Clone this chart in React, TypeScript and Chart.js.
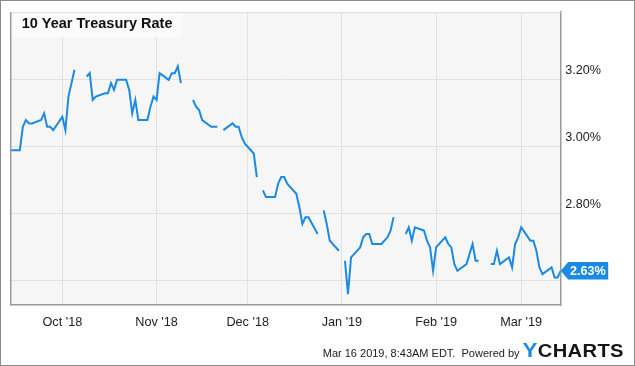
import React, { useEffect, useRef } from 'react';
import { Chart, registerables } from 'chart.js';

Chart.register(...registerables);

const title = '10 Year Treasury Rate';
const footerText = 'Mar 16 2019, 8:43AM EDT.  Powered by';
const logoY = 'Y';
const logoRest = 'CHARTS';

const dates = [
  '2018-09-14', '2018-09-17', '2018-09-18', '2018-09-19', '2018-09-20', '2018-09-21', '2018-09-24', '2018-09-25', '2018-09-26', '2018-09-27', '2018-09-28',
  '2018-10-01', '2018-10-02', '2018-10-03', '2018-10-04', '2018-10-05', '2018-10-08', '2018-10-09', '2018-10-10', '2018-10-11', '2018-10-12', '2018-10-15', '2018-10-16', '2018-10-17', '2018-10-18', '2018-10-19', '2018-10-22', '2018-10-23', '2018-10-24', '2018-10-25', '2018-10-26', '2018-10-29', '2018-10-30', '2018-10-31',
  '2018-11-01', '2018-11-02', '2018-11-05', '2018-11-06', '2018-11-07', '2018-11-08', '2018-11-09', '2018-11-12', '2018-11-13', '2018-11-14', '2018-11-15', '2018-11-16', '2018-11-19', '2018-11-20', '2018-11-21', '2018-11-22', '2018-11-23', '2018-11-26', '2018-11-27', '2018-11-28', '2018-11-29', '2018-11-30',
  '2018-12-03', '2018-12-04', '2018-12-05', '2018-12-06', '2018-12-07', '2018-12-10', '2018-12-11', '2018-12-12', '2018-12-13', '2018-12-14', '2018-12-17', '2018-12-18', '2018-12-19', '2018-12-20', '2018-12-21', '2018-12-24', '2018-12-25', '2018-12-26', '2018-12-27', '2018-12-28', '2018-12-31',
  '2019-01-01', '2019-01-02', '2019-01-03', '2019-01-04', '2019-01-07', '2019-01-08', '2019-01-09', '2019-01-10', '2019-01-11', '2019-01-14', '2019-01-15', '2019-01-16', '2019-01-17', '2019-01-18', '2019-01-21', '2019-01-22', '2019-01-23', '2019-01-24', '2019-01-25', '2019-01-28', '2019-01-29', '2019-01-30', '2019-01-31',
  '2019-02-01', '2019-02-04', '2019-02-05', '2019-02-06', '2019-02-07', '2019-02-08', '2019-02-11', '2019-02-12', '2019-02-13', '2019-02-14', '2019-02-15', '2019-02-18', '2019-02-19', '2019-02-20', '2019-02-21', '2019-02-22', '2019-02-25', '2019-02-26', '2019-02-27', '2019-02-28',
  '2019-03-01', '2019-03-04', '2019-03-05', '2019-03-06', '2019-03-07', '2019-03-08', '2019-03-11', '2019-03-12', '2019-03-13', '2019-03-14',
];

const rates: (number | null)[] = [
  2.99, 2.99, 3.06, 3.08, 3.07, 3.07, 3.08, 3.10, 3.06, 3.06, 3.05,
  3.09, 3.05, 3.15, 3.19, 3.23, null, 3.21, 3.22, 3.14, 3.15, 3.16, 3.16, 3.19, 3.17, 3.20, 3.20, 3.17, 3.10, 3.14, 3.08, 3.08, 3.12, 3.15,
  3.14, 3.22, 3.20, 3.22, 3.22, 3.24, 3.19, null, 3.14, 3.12, 3.11, 3.08, 3.06, 3.06, 3.06, null, 3.05, 3.07, 3.06, 3.06, 3.03, 3.01,
  2.98, 2.91, null, 2.87, 2.85, 2.85, 2.89, 2.91, 2.91, 2.89, 2.86, 2.82, 2.77, 2.79, 2.79, 2.74, null, 2.81, 2.77, 2.72, 2.69,
  null, 2.66, 2.56, 2.67, 2.70, 2.73, 2.74, 2.74, 2.71, 2.71, 2.72, 2.73, 2.75, 2.79, null, 2.74, 2.76, 2.72, 2.76, 2.75, 2.72, 2.70, 2.63,
  2.70, 2.73, 2.71, 2.70, 2.65, 2.63, 2.65, 2.68, 2.71, 2.66, 2.66, null, 2.65, 2.65, 2.69, 2.65, 2.67, 2.64, 2.71, 2.73,
  2.76, 2.72, 2.72, 2.69, 2.64, 2.62, 2.64, 2.61, 2.61, 2.63,
];

const monthStarts = ['2018-10-01', '2018-11-01', '2018-12-01', '2019-01-01', '2019-02-01', '2019-03-01'];
const monthLabels = ["Oct '18", "Nov '18", "Dec '18", "Jan '19", "Feb '19", "Mar '19"];
const yTicks = [2.6, 2.8, 3.0, 3.2];
const xRange = ['2018-09-14', '2019-03-14'];
const yRange = [2.528, 3.402];

const BLUE = '#1a8ae6';
const FONT = "'Liberation Sans', Arial, sans-serif";

function dayNum(s: string): number {
  const [y, m, d] = s.split('-').map(Number);
  return (Date.UTC(y, m - 1, d) - Date.UTC(2018, 9, 1)) / 86400000;
}

export default function App() {
  const ref = useRef<HTMLCanvasElement | null>(null);

  useEffect(() => {
    const canvas = ref.current;
    if (!canvas) return;

    const points = dates.map((d, i) => ({ x: dayNum(d), y: rates[i] }));
    let lastVal = 0;
    for (let i = rates.length - 1; i >= 0; i--) {
      if (rates[i] != null) { lastVal = rates[i] as number; break; }
    }

    const decor = {
      id: 'decor',
      beforeDraw(chart: any) {
        const { ctx, chartArea: a } = chart;
        ctx.save();
        ctx.fillStyle = '#ffffff';
        ctx.fillRect(0, 0, chart.width, chart.height);
        ctx.fillStyle = '#f6f6f6';
        ctx.fillRect(a.left, a.top, a.right - a.left, a.bottom - a.top);
        ctx.restore();
      },
      beforeDatasetsDraw(chart: any) {
        const { ctx, chartArea: a } = chart;
        ctx.save();
        ctx.fillStyle = 'rgba(252,252,252,0.85)';
        ctx.fillRect(a.left, a.top, 172, 25);
        ctx.fillStyle = '#111';
        ctx.font = `bold 14.5px ${FONT}`;
        ctx.textBaseline = 'alphabetic';
        ctx.textAlign = 'left';
        ctx.fillText(title, 21.7, 28.3);
        ctx.strokeStyle = '#dddddd';
        ctx.lineWidth = 1;
        ctx.beginPath();
        ctx.moveTo(a.left, a.top + 0.5);
        ctx.lineTo(a.right, a.top + 0.5);
        ctx.stroke();
        ctx.restore();
      },
      afterDraw(chart: any) {
        const { ctx, chartArea: a } = chart;
        const ys = chart.scales.y;
        ctx.save();
        ctx.strokeStyle = '#9a9a9a';
        ctx.lineWidth = 1.5;
        ctx.beginPath();
        ctx.moveTo(a.left, a.top);
        ctx.lineTo(a.left, a.bottom);
        ctx.stroke();

        // last-value badge
        const by = ys.getPixelForValue(lastVal);
        const h = 17.6;
        const tip = a.right;
        const rx = a.right + 7.5;
        const rw = 40;
        ctx.fillStyle = BLUE;
        ctx.beginPath();
        ctx.moveTo(tip, by);
        ctx.lineTo(rx, by - h / 2);
        ctx.lineTo(rx + rw, by - h / 2);
        ctx.lineTo(rx + rw, by + h / 2);
        ctx.lineTo(rx, by + h / 2);
        ctx.closePath();
        ctx.fill();
        ctx.fillStyle = '#ffffff';
        ctx.font = `bold 12.6px ${FONT}`;
        ctx.textAlign = 'left';
        ctx.textBaseline = 'middle';
        ctx.fillText(lastVal.toFixed(2) + '%', rx + 1.8, by + 0.5);

        // footer
        ctx.fillStyle = '#222';
        ctx.font = `11px ${FONT}`;
        ctx.textAlign = 'right';
        ctx.textBaseline = 'alphabetic';
        ctx.fillText(footerText, 519.6, 356.5);

        // logo
        ctx.textAlign = 'left';
        const sx = 1.12;
        ctx.font = `bold 20px ${FONT}`;
        const wY = ctx.measureText(logoY).width * sx;
        ctx.font = `bold 18px ${FONT}`;
        const ws = logoRest.split('').map((c) => ctx.measureText(c).width * sx);
        const total = wY + ws.reduce((s, v) => s + v, 0);
        const gap = (101 - total) / logoRest.length;
        let x = 522.5;
        const drawChar = (c: string, px: number, font: string, color: string) => {
          ctx.save();
          ctx.font = font;
          ctx.fillStyle = color;
          ctx.translate(px, 356.8);
          ctx.scale(sx, 1);
          ctx.fillText(c, 0, 0);
          ctx.restore();
        };
        drawChar(logoY, x, `bold 20px ${FONT}`, '#1e8ce6');
        x += wY + gap;
        logoRest.split('').forEach((c, i) => {
          drawChar(c, x, `bold 18px ${FONT}`, '#161616');
          x += ws[i] + gap;
        });

        ctx.strokeStyle = '#8c8c8c';
        ctx.lineWidth = 1;
        ctx.strokeRect(0.5, 0.5, chart.width - 1, chart.height - 1);
        ctx.restore();
      },
    };

    const chart = new Chart(canvas, {
      type: 'line',
      data: {
        datasets: [
          {
            data: points as any,
            borderColor: BLUE,
            borderWidth: 2,
            pointRadius: 0,
            pointHoverRadius: 0,
            tension: 0,
            fill: false,
            spanGaps: false,
          },
        ],
      },
      options: {
        responsive: false,
        animation: false,
        devicePixelRatio: 1,
        events: [],
        layout: { padding: { left: 10.7, top: 10, right: 0, bottom: 0 } },
        plugins: { legend: { display: false }, tooltip: { enabled: false }, title: { display: false } },
        scales: {
          x: {
            type: 'linear',
            position: 'bottom',
            bounds: 'data',
            min: dayNum(xRange[0]),
            max: dayNum(xRange[1]),
            afterBuildTicks: (s: any) => {
              s.ticks = monthStarts.map((m) => ({ value: dayNum(m) }));
            },
            afterFit: (s: any) => {
              s.height = 61;
            },
            grid: { color: '#e2e2e2', lineWidth: 1, drawTicks: false },
            border: { display: true, color: '#9a9a9a', width: 1.5 },
            ticks: {
              autoSkip: false,
              maxRotation: 0,
              minRotation: 0,
              padding: 9.5,
              color: '#222',
              font: { family: FONT, size: 12.7 },
              callback: (_v: any, i: number) => monthLabels[i],
            },
          },
          y: {
            type: 'linear',
            position: 'right',
            bounds: 'data',
            min: yRange[0],
            max: yRange[1],
            afterBuildTicks: (s: any) => {
              s.ticks = yTicks.map((v) => ({ value: v }));
            },
            afterFit: (s: any) => {
              s.width = 74.3;
            },
            grid: { color: '#e2e2e2', lineWidth: 1, drawTicks: false },
            border: { display: true, color: '#9a9a9a', width: 1.5 },
            ticks: {
              padding: 4.6,
              labelOffset: -9,
              color: '#222',
              font: { family: FONT, size: 12.6 },
              callback: (v: any) => (Math.abs(Number(v) - 2.6) < 1e-6 ? '' : Number(v).toFixed(2) + '%'),
            },
          },
        },
      },
      plugins: [decor],
    });

    return () => chart.destroy();
  }, []);

  return (
    <div style={{ position: 'absolute', left: 0, top: 0, width: 635, height: 366 }}>
      <canvas ref={ref} width={635} height={366} style={{ width: 635, height: 366, display: 'block' }} />
    </div>
  );
}
